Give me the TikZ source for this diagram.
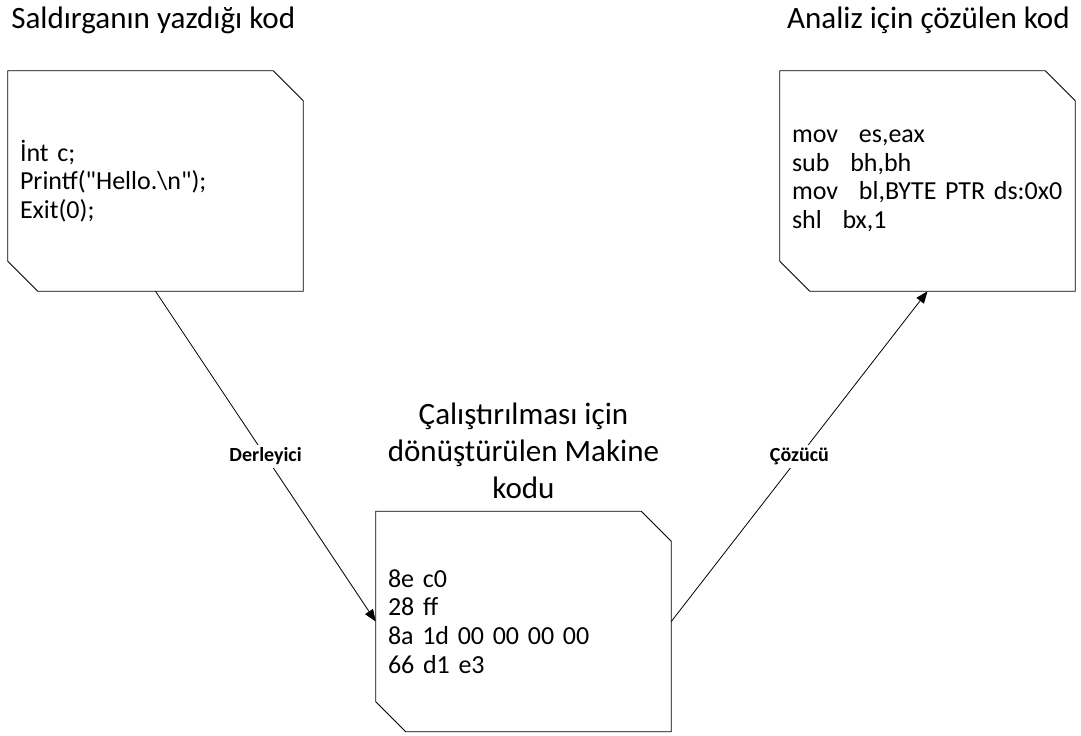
\documentclass[tikz,border=0pt]{standalone}
\usepackage{fontspec}
\setmainfont{Carlito}
\usetikzlibrary{arrows.meta,positioning}
\newcommand\codefont{\fontsize{19.5}{21.5}\selectfont\spaceskip 0.17em\relax}

\begin{document}
\begin{tikzpicture}[
    x=0.75pt, y=-0.75pt,
    codebox/.style={rectangle, minimum width=221.25pt, minimum height=165pt,
        text width=203.25pt, inner xsep=9pt, align=left, font=\codefont},
    title/.style={font=\fontsize{23.3}{28}\selectfont, inner sep=0pt},
    conn/.style={line width=0.6pt, -{Triangle[length=9pt,width=7pt]}},
    lbl/.style={fill=white, inner sep=2pt, font=\fontsize{15}{18}\selectfont\bfseries},
]
\useasboundingbox (0,0) rectangle (1081,735);

% Titles
\node[title, anchor=west] (srctitle) at (11,20) {Saldırganın yazdığı kod};
\node[title, anchor=east] (asmtitle) at (1070,20) {Analiz için çözülen kod};

% Code boxes
\node[codebox] (src) at (155.5,181) {İnt c;\\Printf(\textquotedbl Hello.\textbackslash n\textquotedbl);\\Exit(0);};
\node[codebox] (asm) at (927.5,181) {mov\hspace{0.8em}es,eax\\sub\hspace{0.8em}bh,bh\\mov\hspace{0.8em}bl,BYTE PTR ds:0x0\\shl\hspace{0.8em}bx,1\\[20pt]};
\node[codebox] (mach) at (523.5,621.5) {8e c0\\28 ff\\8a 1d 00 00 00 00\\66 d1 e3};

\node[title, align=center, above=9pt of mach] (machtitle) {Çalıştırılması için\\dönüştürülen Makine\\kodu};

% Cut corners
\foreach \b in {src,asm,mach} {
    \draw[line width=0.6pt] (\b.north west) -- ([xshift=-22.5pt]\b.north east)
        -- ([yshift=-22.5pt]\b.north east) -- (\b.south east)
        -- ([xshift=22.5pt]\b.south west) -- ([yshift=22.5pt]\b.south west) -- cycle;
}

% Connectors
\draw[conn] (src.south) -- node[lbl] {Derleyici} (mach.west);
\draw[conn] (mach.east) -- node[lbl] {Çözücü} (asm.south);

\end{tikzpicture}
\end{document}
